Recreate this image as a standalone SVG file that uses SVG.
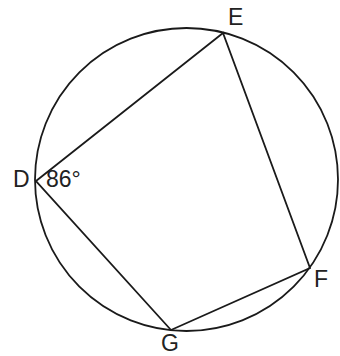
<svg xmlns="http://www.w3.org/2000/svg" width="340" height="356" viewBox="0 0 340 356">
  <style>
    .ln { fill: none; stroke: #1a1a1a; stroke-width: 1.8; stroke-linejoin: miter; }
    .lbl { font-family: "Liberation Sans", Arial, sans-serif; font-size: 23px; fill: #222; }
  </style>
  <rect width="340" height="356" fill="#fff"/>
  <g id="circle">
    <circle class="ln" cx="186.5" cy="179.5" r="151.5"/>
  </g>
  <g id="connectors">
    <polygon class="ln" points="36,181 223,33 310,268 171,330"/>
  </g>
  <g id="D">
    <text class="lbl" x="13" y="187">D</text>
    <text class="lbl" x="46" y="187">86°</text>
  </g>
  <g id="E">
    <text class="lbl" x="228" y="25">E</text>
  </g>
  <g id="F">
    <text class="lbl" x="314" y="287">F</text>
  </g>
  <g id="G">
    <text class="lbl" x="161" y="351">G</text>
  </g>
</svg>
